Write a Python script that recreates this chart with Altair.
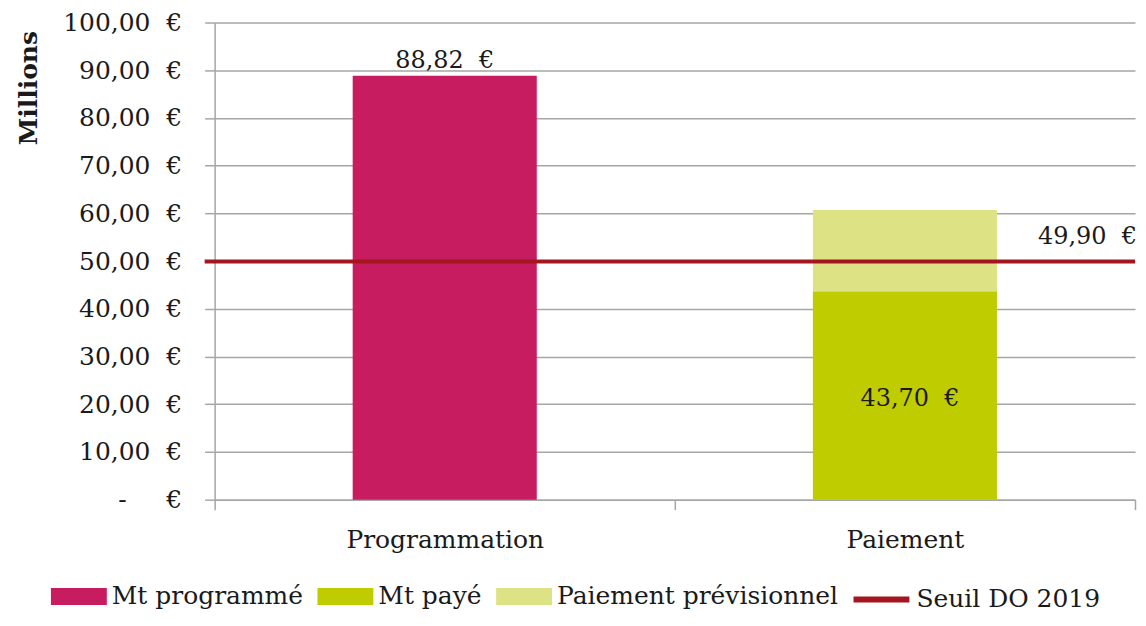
import altair as alt
import pandas as pd

FONT = "DejaVu Serif"
NB = "\u00a0"

categories = ["Programmation", "Paiement"]
bar_series_names = ["Mt programmé", "Mt payé", "Paiement prévisionnel"]
bar_colors = ["#C71C60", "#BFCC00", "#DDE384"]
threshold_name = "Seuil DO 2019"
threshold_color = "#A3161F"

bar_category = ["Programmation", "Paiement", "Paiement"]
bar_series = ["Mt programmé", "Mt payé", "Paiement prévisionnel"]
bar_values = [88.82, 43.70, 17.00]
bar_order = [0, 0, 1]

threshold_value = 49.90

y_ticks = list(range(0, 101, 10))


def fr(v):
    return f"{v:.2f}".replace(".", ",") + NB + NB + "€"


bars_df = pd.DataFrame({
    "categorie": bar_category,
    "serie": bar_series,
    "valeur": bar_values,
    "ordre": bar_order,
})

top_df = pd.DataFrame({"categorie": [bar_category[0]], "valeur": [bar_values[0]],
                       "texte": [fr(bar_values[0])]})
mid_df = pd.DataFrame({"categorie": [bar_category[1]], "valeur": [bar_values[1] / 2],
                       "texte": [fr(bar_values[1])]})
thr_df = pd.DataFrame({"serie": [threshold_name], "valeur": [threshold_value],
                       "texte": [fr(threshold_value)]})

W, H = 922, 478
GRID = "#A6A6A6"
TXT = "#1a1a1a"
LEG_Y = 547

x_enc = alt.X(
    "categorie:N",
    sort=categories,
    scale=alt.Scale(domain=categories, paddingInner=0, paddingOuter=0),
    axis=alt.Axis(
        title=None, labelAngle=0, labelFont=FONT, labelFontSize=25, labelColor=TXT,
        labelPadding=18, labelLimit=0, tickBand="extent", tickSize=10, tickColor=GRID,
        tickWidth=1.5, domainColor=GRID, domainWidth=1.5, grid=False, labelBaseline="top",
    ),
)

y_label_expr = (
    "datum.value == 0 ? '-" + NB * 5 + "€' : "
    "replace(format(datum.value, '.2f'), '.', ',') + '" + NB + NB + "€'"
)

y_enc = alt.Y(
    "valeur:Q",
    stack="zero",
    scale=alt.Scale(domain=[0, 100], nice=False),
    axis=alt.Axis(
        values=y_ticks, labelExpr=y_label_expr, labelFont=FONT, labelFontSize=25,
        labelColor=TXT, labelPadding=23, tickSize=10, tickColor=GRID, tickWidth=1.5,
        domainColor=GRID, domainWidth=1.5, gridColor=GRID, gridWidth=1.5,
        title="Millions", titleFont=FONT, titleFontSize=25, titleFontWeight="bold",
        titleColor=TXT, titleAngle=270, titleAlign="right", titleBaseline="middle",
        titleAnchor="end", titleX=-186, titleY=8,
    ),
)

fill_enc = alt.Fill(
    "serie:N",
    scale=alt.Scale(domain=bar_series_names, range=bar_colors),
    legend=alt.Legend(
        title=None, orient="none", legendX=-164, legendY=LEG_Y, direction="horizontal",
        symbolType="M-1,-0.3H1V0.3H-1Z", symbolSize=3136, symbolStrokeWidth=0,
        labelFont=FONT, labelFontSize=25, labelColor=TXT, labelOffset=5,
        columnPadding=14, labelLimit=0,
    ),
)

stroke_enc = alt.Stroke(
    "serie:N",
    scale=alt.Scale(domain=[threshold_name], range=[threshold_color]),
    legend=alt.Legend(
        title=None, orient="none", legendX=637, legendY=LEG_Y, direction="horizontal",
        symbolType="stroke", symbolSize=3136, symbolStrokeWidth=6,
        labelFont=FONT, labelFontSize=25, labelColor=TXT, labelOffset=4, labelLimit=0,
    ),
)

bars = alt.Chart(bars_df).mark_bar(width=alt.RelativeBandSize(0.4)).encode(
    x=x_enc, y=y_enc, fill=fill_enc, order=alt.Order("ordre:Q"),
)

rule = alt.Chart(thr_df).mark_rule(strokeWidth=4).encode(
    y=alt.Y("valeur:Q"),
    x=alt.value(-10),
    x2=alt.value(W),
    stroke=stroke_enc,
)

top_text = alt.Chart(top_df).mark_text(
    font=FONT, fontSize=24, color=TXT, baseline="bottom", dy=-3,
).encode(x=alt.X("categorie:N", sort=categories), y=alt.Y("valeur:Q"), text="texte:N")

mid_text = alt.Chart(mid_df).mark_text(
    font=FONT, fontSize=24, color=TXT, baseline="middle", dx=5, dy=4,
).encode(x=alt.X("categorie:N", sort=categories), y=alt.Y("valeur:Q"), text="texte:N")

thr_text = alt.Chart(thr_df).mark_text(
    font=FONT, fontSize=24, color=TXT, baseline="middle", align="right", dy=-25,
).encode(x=alt.value(W + 2), y=alt.Y("valeur:Q"), text="texte:N")

chart = alt.layer(bars, rule, top_text, mid_text, thr_text).properties(
    width=W, height=H,
    autosize=alt.AutoSizeParams(type="none"),
    padding={"left": 207, "top": 14, "right": 3, "bottom": 112},
    background="white",
).configure_view(stroke=None)

chart.save("out.html", embed_options={"renderer": "svg", "actions": False})
